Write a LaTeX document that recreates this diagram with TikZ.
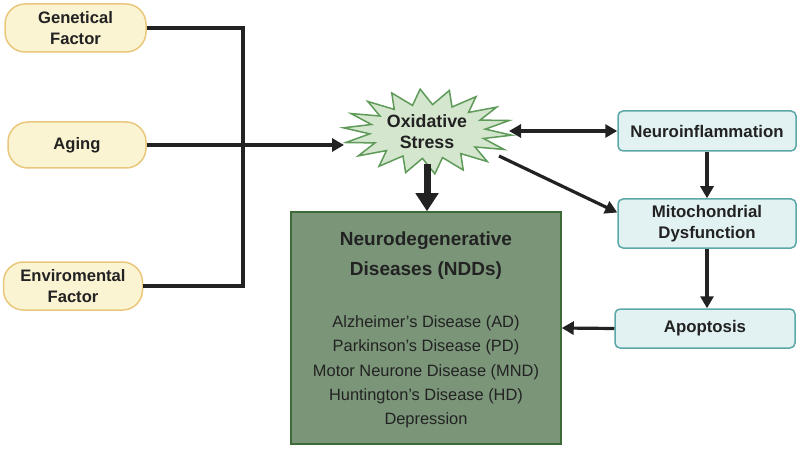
\documentclass[tikz,border=0pt]{standalone}
\usepackage{fontspec}
\setmainfont{Liberation Sans}
\usetikzlibrary{arrows.meta}
\definecolor{pillfill}{HTML}{FBF4D2}
\definecolor{pilldraw}{HTML}{EAC77C}
\definecolor{boxfill}{HTML}{E2F2F2}
\definecolor{boxdraw}{HTML}{5BA8A8}
\definecolor{starfill}{HTML}{D5E6CE}
\definecolor{stardraw}{HTML}{5E9A58}
\definecolor{nddfill}{HTML}{7B9579}
\definecolor{ndddraw}{HTML}{3D6A38}
\definecolor{ink}{HTML}{222222}
\begin{document}
\begin{tikzpicture}[x=1pt,y=-1pt,
  pill/.style={draw=pilldraw, fill=pillfill, line width=1.5pt, rounded corners=20pt,
    align=center, font=\fontsize{16.6}{20.5}\selectfont\bfseries, inner sep=0pt, text=ink},
  stepbox/.style={draw=boxdraw, fill=boxfill, line width=1.5pt, rounded corners=5pt,
    align=center, font=\fontsize{16.8}{21}\selectfont\bfseries, inner sep=0pt, text=ink, minimum width=178pt},
  burstline/.style={draw=stardraw, fill=starfill, line width=1.5pt, line join=miter},
  bursttext/.style={align=center, font=\fontsize{17.8}{21}\selectfont\bfseries, inner sep=0pt, text=ink},
  nddbox/.style={draw=ndddraw, fill=nddfill, line width=1.5pt, minimum width=270pt, minimum height=232pt, inner sep=0pt},
  conn/.style={draw=ink, line width=3.2pt},
  arr/.style={conn, -{Triangle[length=12pt,width=13pt]}},
  dblarr/.style={conn, {Triangle[length=12pt,width=13pt]}-{Triangle[length=12pt,width=13pt]}},
  bigarr/.style={draw=ink, line width=7pt, -{Triangle[length=18pt,width=22pt]}},
]
\useasboundingbox (0,0) rectangle (800,449);
\fill[white] (0,0) rectangle (800,449);

\node[pill, minimum width=141pt, minimum height=48pt] (gen) at (75.5,28) {Genetical\\Factor};
\node[pill, minimum width=138pt, minimum height=46pt] (age) at (77,145) {Aging};
\node[pill, minimum width=139pt, minimum height=48pt] (env) at (73,286) {Enviromental\\Factor};

% oxidative stress starburst
\draw[burstline] ({427.5+84.5*cos(5)},{131.5+42.5*sin(5)})
  \foreach \i in {1,...,35} {
    -- ({427.5+ifthenelse(mod(\i,2)==0,84.5,58)*cos(\i*10+5)},
        {131.5+ifthenelse(mod(\i,2)==0,42.5,27)*sin(\i*10+5)})
  } -- cycle;
\node[bursttext] (ox) at (427,132) {Oxidative\\Stress};

\node[nddbox] (ndd) at (426,328) {};
\node[font=\fontsize{19}{30}\selectfont\bfseries, align=center, text=ink] (nddt) at (426,256) {Neurodegenerative\\Diseases (NDDs)};
\node[font=\fontsize{16.4}{24.3}\selectfont, align=center, text=ink] (nddl) at (426,372) {Alzheimer\symbol{39}s Disease (AD)\\Parkinson\symbol{39}s Disease (PD)\\Motor Neurone Disease (MND)\\Huntington\symbol{39}s Disease (HD)\\Depression};

\node[stepbox, minimum height=40pt] (neuro) at (707,131) {Neuroinflammation};
\node[stepbox, minimum height=49pt] (mito) at (707,223.5) {Mitochondrial\\Dysfunction};
\node[stepbox, minimum width=180pt, minimum height=39pt] (apop) at (705,328.5) {Apoptosis};

\coordinate (jx) at (243,0);
\coordinate (oxin) at (344,145);
\coordinate (oxbot) at (427,164);
\coordinate (oxright) at (509,131);
\coordinate (oxlow) at (499,156);

\draw[conn] (gen.east) -- (gen.east -| jx) -- (env.east -| jx) -- (env.east);
\draw[arr] (age.east) -- (oxin);
\draw[bigarr] (oxbot) -- (ndd.north -| oxbot);
\draw[dblarr] (oxright) -- (neuro.west);
\draw[arr] (oxlow) -- ([yshift=11pt]mito.west);
\draw[arr] (neuro.south) -- (mito.north);
\draw[arr] (mito.south) -- (mito.south |- apop.north);
\draw[arr] (apop.west) -- (ndd.east);
\end{tikzpicture}
\end{document}
